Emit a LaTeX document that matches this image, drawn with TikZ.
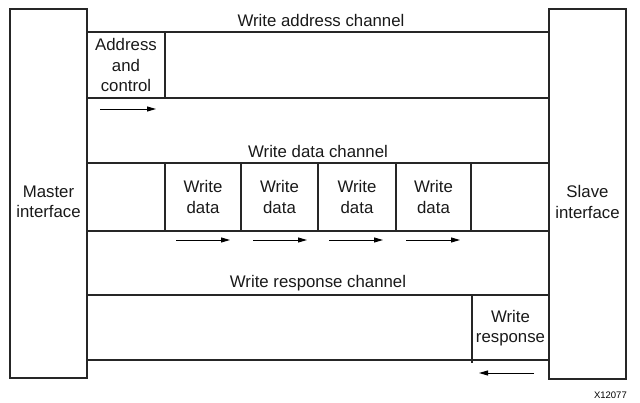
\documentclass[tikz,border=0pt]{standalone}
\usepackage{fontspec}
\setmainfont{Liberation Sans}
\usetikzlibrary{arrows.meta}
\begin{document}
\begin{tikzpicture}[x=1pt,y=-1pt,
  frame/.style={draw=black!85,line width=1.4pt},
  lbl/.style={font=\fontsize{16.8}{20.5}\selectfont,text=black!90,inner sep=0pt,align=center},
  flow/.style={line width=0.9pt,-{Triangle[length=9pt,width=5pt]}}]
\useasboundingbox (0,0) rectangle (640,403);
% interfaces
\draw[frame] (10,9) rectangle (87,378);
\draw[frame] (549,9) rectangle (626,379);
\node[lbl] (master) at (48.5,202) {Master\\interface};
\node[lbl] (slave) at (587.5,202) {Slave\\interface};
% channel lines
\foreach \y in {32,98,163,231,295,360}{\draw[frame] (87,\y) -- (549,\y);}
% dividers
\draw[frame] (165,32) -- (165,98);
\foreach \x in {165,241,318,396,471}{\draw[frame] (\x,163) -- (\x,231);}
\draw[frame] (472,295) -- (472,363);
% titles
\node[lbl,anchor=base] (wac) at (321,27) {Write address channel};
\node[lbl,anchor=base] (wdc) at (318,158) {Write data channel};
\node[lbl,anchor=base] (wrc) at (318,288) {Write response channel};
% beats
\node[lbl] (addr) at (126,65) {Address\\and\\control};
\node[lbl] (d1) at (203,197) {Write\\data};
\node[lbl] (d2) at (279.5,197) {Write\\data};
\node[lbl] (d3) at (357,197) {Write\\data};
\node[lbl] (d4) at (433.5,197) {Write\\data};
\node[lbl] (resp) at (510.5,328) {Write\\response};
% arrows
\coordinate (a0) at (100,109); \coordinate (a1) at (156,109);
\draw[flow] (a0) -- (a1);
\foreach \x in {176,253,329,406}{
  \coordinate (b\x) at (\x,240); \coordinate (c\x) at (\x+54,240);
  \draw[flow] (b\x) -- (c\x);}
\coordinate (r0) at (534,373); \coordinate (r1) at (479,373);
\draw[flow] (r0) -- (r1);
\node[font=\fontsize{9.5}{11}\selectfont,anchor=base east,inner sep=0pt] (id) at (627,398) {X12077};
\end{tikzpicture}
\end{document}
